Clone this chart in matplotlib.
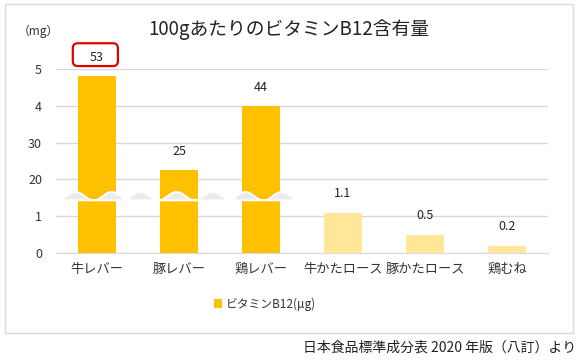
import numpy as np
import matplotlib
matplotlib.use("Agg")
import matplotlib.pyplot as plt
from matplotlib.patches import FancyBboxPatch, Rectangle, Polygon

plt.rcParams['font.family'] = ['Noto Sans CJK JP', 'DejaVu Sans']

# data
categories = ["牛レバー", "豚レバー", "鶏レバー", "牛かたロース", "豚かたロース", "鶏むね"]
values = [53, 25, 44, 1.1, 0.5, 0.2]          # labels shown on bars
heights = [4.8, 2.25, 4.0, 1.1, 0.5, 0.2]       # drawn height on the broken axis
ytick_labels = ["0", "1", "20", "30", "4", "5"]
bar_colors = ["#FFC000", "#FFC000", "#FFC000", "#FFE699", "#FFE699", "#FFE699"]

fig = plt.figure(figsize=(5.82, 3.61), dpi=100)
ax = fig.add_axes([56/582, 1-253/361, (548-56)/582, (253-69)/361])

x = np.arange(len(categories))
bars = ax.bar(x, heights, width=0.475, color=bar_colors, zorder=2, label="ビタミンB12(μg)")

ax.set_xlim(-0.5, 5.5)
ax.set_ylim(0, 5)
ax.set_yticks(range(6))
ax.set_yticklabels(ytick_labels)
ax.set_xticks(x)
ax.set_xticklabels(categories)
ax.tick_params(axis="both", length=0, labelsize=9, labelcolor="#333333")
ax.tick_params(axis="x", labelsize=9.5, pad=7)
ax.tick_params(axis="y", pad=10)
ax.yaxis.grid(True, color="#d9d9d9", linewidth=1, zorder=0)
ax.set_axisbelow(True)
for s in ["left", "right", "top"]:
    ax.spines[s].set_visible(False)
ax.spines["bottom"].set_color("#d9d9d9")

# value labels
for xi, h, v in zip(x, heights, values):
    ax.annotate(str(v), (xi, h), xytext=(0, 13.5), textcoords="offset points",
                ha="center", va="center", fontsize=9, color="#222222", zorder=5,
                annotation_clip=False)

# red box around the first label
box = FancyBboxPatch((-0.295, 5.08), 0.55, 0.62,
                     boxstyle="round,pad=0,rounding_size=0.06",
                     mutation_aspect=2.23, transform=ax.transData,
                     fill=False, edgecolor="#e00000", linewidth=1.6,
                     clip_on=False, zorder=6)
ax.add_patch(box)

# wave break marks
P = 0.44
base, amp = 1.43, 0.23
for xs, xe, x0 in [(-0.47, 0.32, -0.48), (0.40, 1.60, 0.31), (1.68, 2.48, 1.59)]:
    xx = np.linspace(xs, xe, 120)
    yy = base + amp * (1 - np.cos(2*np.pi*(xx - x0)/P)) / 2
    pts = np.column_stack([np.r_[xx, xe, xs], np.r_[yy, base, base]])
    ax.add_patch(Polygon(pts, closed=True, facecolor="#ebebeb",
                         edgecolor="white", linewidth=1.3, zorder=3))

# title and texts
fig.text(0.497, 1-30/361, "100gあたりのビタミンB12含有量", ha="center", va="center",
         fontsize=13.5, color="#222222")
fig.text(38/582, 1-31/361, "（mg）", ha="center", va="center", fontsize=8.5, color="#333333")
fig.text(576/582, 1-348/361, "日本食品標準成分表 2020 年版（八訂）より", ha="right",
         va="center", fontsize=10, color="#222222")

fig.legend(handles=[bars], loc="center", bbox_to_anchor=(265/582, 1-304/361),
           frameon=False, fontsize=8.5, handlelength=0.7, handleheight=0.7,
           handletextpad=0.3, labelcolor="#333333")

# outer chart border
fig.patches.append(Rectangle((5/582, 1-333/361), (573-5)/582, (333-4)/361,
                             transform=fig.transFigure, fill=False,
                             edgecolor="#d9d9d9", linewidth=1))

fig.savefig("out.png", dpi=100)
